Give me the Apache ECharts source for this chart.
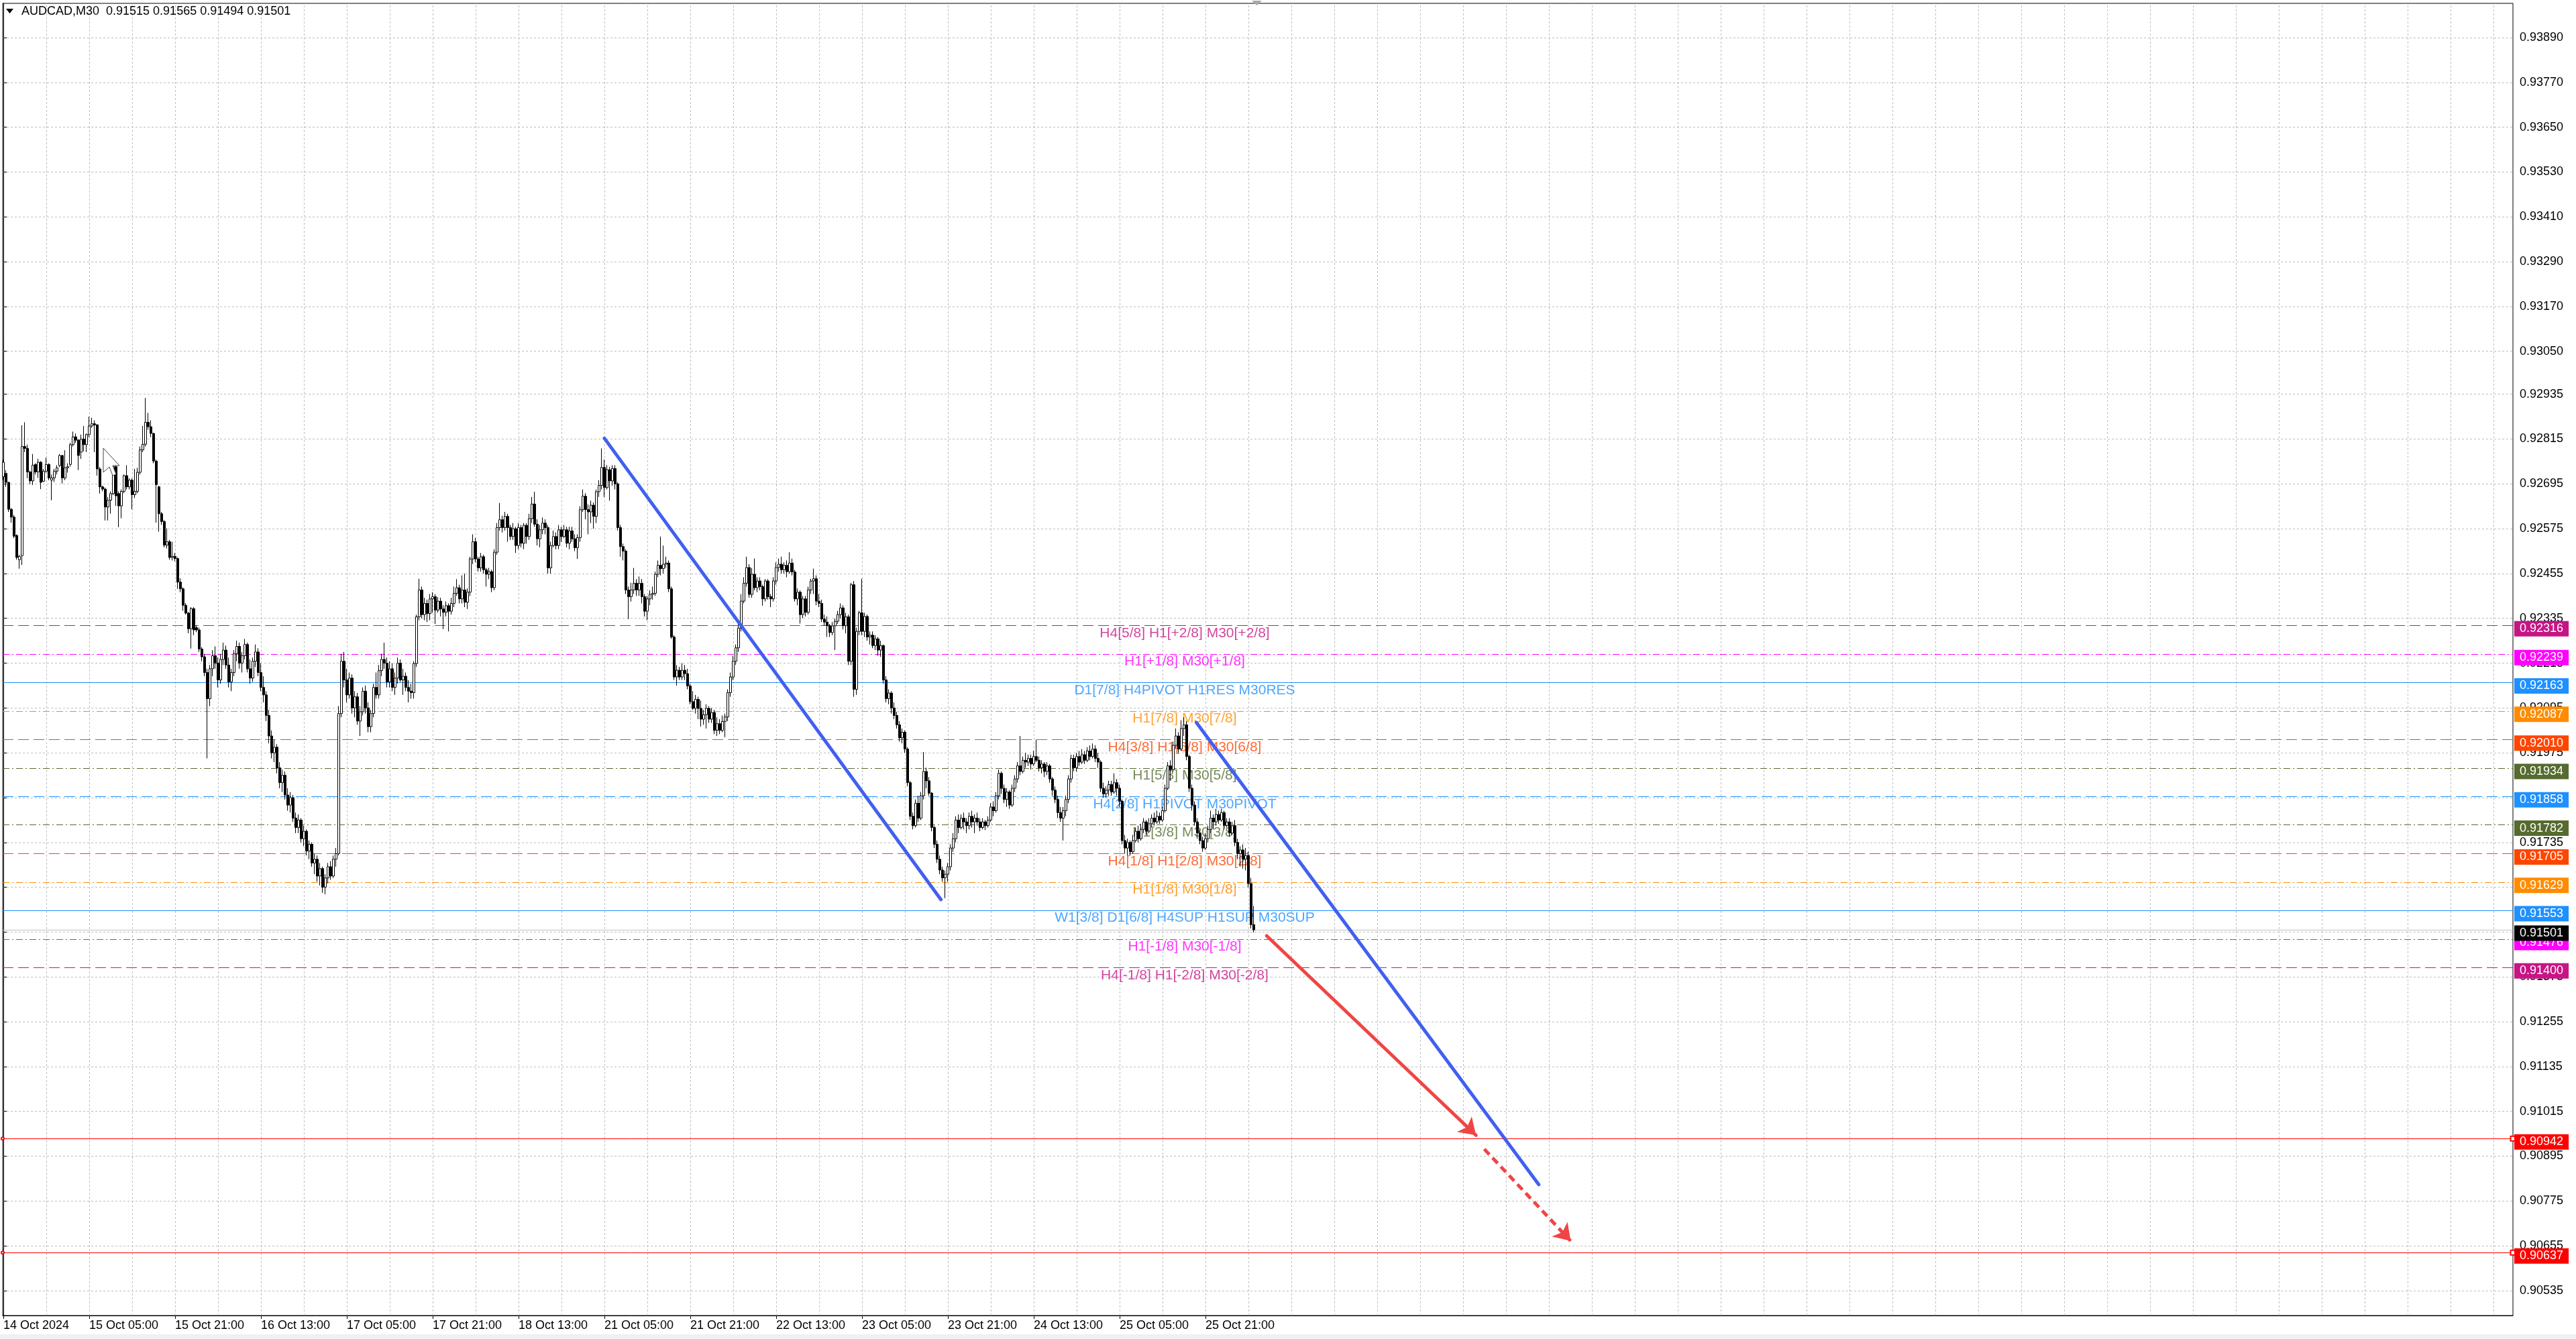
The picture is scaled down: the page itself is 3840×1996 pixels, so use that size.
<!DOCTYPE html>
<html><head><meta charset="utf-8">
<script src="https://cdn.jsdelivr.net/npm/echarts@6/dist/echarts.min.js"></script>
<style>html,body{margin:0;padding:0;background:#fff;overflow:hidden}#chart{width:3840px;height:1996px}</style>
</head><body><div id="chart"></div>
<script>
// ---------------- DATA ----------------
const SYMBOL = 'AUDCAD';
const TIMEFRAME = 'M30';
const POINT = 1e-5; // candle rows are quoted in points
// each row: [open, high, low, close] in points, one row per M30 bar
const candles = [
[92714,92760,92705,92753],[92723,92732,92687,92699],[92699,92700,92620,92627],[92627,92630,92591,92606],[92606,92612,92550,92555],[92557,92560,92492,92498],[92492,92505,92468,92501],[92503,92852,92478,92795],
[92795,92860,92780,92790],[92790,92800,92710,92727],[92727,92730,92694,92703],[92703,92775,92692,92745],[92747,92750,92720,92727],[92727,92762,92711,92753],[92753,92756,92681,92699],[92702,92735,92700,92729],
[92729,92765,92725,92747],[92747,92750,92705,92711],[92705,92720,92651,92711],[92711,92735,92700,92729],[92729,92745,92720,92738],[92744,92775,92740,92771],[92771,92772,92696,92711],[92711,92785,92705,92738],
[92738,92750,92725,92741],[92747,92805,92741,92800],[92800,92835,92795,92821],[92821,92830,92805,92812],[92812,92815,92732,92771],[92780,92827,92762,92815],[92815,92850,92782,92800],[92800,92830,92780,92827],
[92827,92875,92820,92850],[92850,92872,92845,92856],[92856,92865,92780,92853],[92853,92855,92717,92735],[92735,92740,92669,92687],[92687,92690,92675,92681],[92681,92685,92597,92633],[92633,92660,92597,92651],
[92651,92675,92615,92669],[92669,92752,92665,92741],[92741,92750,92636,92663],[92669,92675,92579,92636],[92636,92680,92603,92675],[92675,92720,92670,92717],[92717,92745,92680,92687],[92687,92710,92680,92705],
[92705,92710,92627,92666],[92666,92735,92657,92675],[92675,92738,92670,92726],[92726,92795,92720,92786],[92786,92850,92780,92801],[92801,92925,92795,92860],[92860,92885,92840,92848],[92848,92865,92820,92830],
[92830,92832,92750,92756],[92756,92760,92591,92693],[92687,92690,92567,92615],[92615,92620,92585,92594],[92594,92598,92525,92531],[92531,92576,92522,92540],[92540,92545,92492,92498],[92498,92540,92490,92501],
[92501,92510,92488,92495],[92495,92498,92414,92432],[92432,92442,92405,92414],[92414,92418,92355,92370],[92370,92376,92345,92349],[92349,92352,92295,92307],[92307,92365,92254,92361],[92361,92365,92290,92304],
[92310,92316,92298,92304],[92304,92310,92245,92253],[92253,92258,92220,92232],[92232,92240,92180,92190],[92190,92200,91960,92120],[92120,92210,92100,92200],[92200,92250,92180,92235],[92235,92260,92200,92215],
[92215,92230,92150,92170],[92170,92240,92160,92225],[92225,92270,92210,92250],[92250,92262,92200,92210],[92210,92230,92150,92165],[92165,92200,92140,92190],[92190,92250,92180,92240],[92240,92275,92220,92260],
[92260,92270,92200,92215],[92215,92245,92190,92235],[92235,92280,92225,92265],[92265,92270,92190,92200],[92200,92225,92160,92175],[92175,92230,92165,92220],[92220,92265,92205,92245],[92245,92255,92180,92190],
[92190,92215,92140,92150],[92150,92180,92110,92130],[92130,92140,92060,92075],[92075,92090,92000,92020],[92020,92035,91960,91975],[91975,92010,91950,91990],[91990,91998,91920,91935],[91935,91950,91880,91895],
[91895,91930,91870,91915],[91915,91925,91850,91862],[91862,91880,91820,91835],[91835,91870,91815,91855],[91855,91862,91790,91800],[91800,91815,91760,91775],[91775,91810,91760,91795],[91795,91800,91735,91745],
[91745,91780,91725,91765],[91765,91770,91700,91712],[91712,91740,91690,91730],[91730,91735,91670,91680],[91680,91705,91650,91690],[91690,91700,91630,91645],[91645,91680,91620,91665],[91665,91670,91600,91615],
[91615,91650,91596,91640],[91640,91680,91625,91670],[91670,91685,91635,91645],[91645,91700,91640,91690],[91690,91720,91670,91705],[91705,92100,91700,92080],[92080,92240,92070,92220],[92220,92245,92150,92170],
[92170,92200,92110,92130],[92130,92190,92120,92175],[92175,92185,92080,92095],[92095,92140,92070,92125],[92125,92135,92050,92060],[92060,92100,92020,92085],[92085,92150,92075,92140],[92140,92155,92080,92095],
[92095,92110,92030,92045],[92045,92090,92030,92080],[92080,92160,92070,92150],[92150,92190,92120,92130],[92130,92210,92120,92195],[92195,92240,92180,92225],[92225,92270,92200,92215],[92215,92230,92150,92165],
[92165,92220,92150,92200],[92200,92215,92140,92150],[92150,92190,92130,92175],[92175,92230,92160,92215],[92215,92225,92165,92170],[92170,92200,92130,92180],[92180,92190,92140,92150],[92150,92170,92110,92140],
[92140,92160,92120,92136],[92136,92220,92120,92214],[92214,92345,92205,92339],[92339,92441,92330,92411],[92411,92420,92335,92345],[92345,92390,92330,92375],[92375,92385,92325,92348],[92348,92400,92330,92387],
[92387,92405,92350,92393],[92393,92400,92320,92357],[92357,92392,92350,92381],[92381,92390,92340,92360],[92360,92370,92306,92351],[92351,92380,92340,92369],[92369,92375,92300,92354],[92354,92390,92345,92375],
[92375,92420,92365,92402],[92402,92440,92395,92417],[92417,92425,92375,92387],[92387,92450,92375,92411],[92411,92455,92365,92378],[92378,92415,92360,92405],[92405,92500,92395,92494],[92494,92560,92480,92540],
[92540,92550,92485,92494],[92494,92500,92460,92470],[92470,92510,92460,92500],[92500,92505,92455,92465],[92465,92470,92420,92453],[92453,92470,92440,92460],[92460,92465,92405,92417],[92417,92520,92410,92512],
[92512,92590,92505,92578],[92578,92644,92570,92599],[92599,92610,92565,92578],[92578,92620,92570,92608],[92608,92615,92540,92578],[92578,92585,92545,92554],[92554,92590,92545,92575],[92575,92580,92510,92530],
[92530,92590,92520,92578],[92578,92585,92525,92536],[92536,92590,92520,92584],[92584,92590,92535,92554],[92554,92615,92545,92602],[92602,92660,92590,92641],[92641,92674,92580,92587],[92587,92600,92530,92548],
[92548,92585,92525,92572],[92572,92605,92560,92590],[92590,92600,92560,92578],[92578,92585,92455,92470],[92470,92540,92455,92530],[92530,92570,92525,92554],[92554,92565,92520,92530],[92530,92585,92520,92572],
[92572,92580,92540,92554],[92554,92585,92550,92572],[92572,92580,92525,92536],[92536,92580,92520,92569],[92569,92580,92540,92548],[92548,92560,92515,92524],[92524,92560,92494,92551],[92551,92635,92540,92626],
[92626,92680,92620,92662],[92662,92670,92600,92626],[92626,92640,92560,92620],[92620,92650,92590,92638],[92638,92645,92575,92608],[92608,92680,92590,92674],[92674,92705,92660,92691],[92691,92790,92680,92739],
[92739,92760,92660,92685],[92685,92745,92680,92733],[92733,92740,92650,92703],[92703,92745,92690,92736],[92736,92745,92680,92695],[92695,92700,92570,92578],[92578,92585,92500,92527],[92527,92535,92490,92515],
[92515,92520,92400,92411],[92411,92420,92333,92393],[92393,92430,92380,92411],[92411,92470,92400,92429],[92429,92440,92395,92411],[92411,92447,92395,92429],[92429,92440,92375,92393],[92393,92400,92340,92354],
[92354,92395,92330,92387],[92387,92410,92370,92399],[92399,92420,92385,92402],[92402,92460,92395,92453],[92453,92490,92445,92477],[92477,92554,92450,92468],[92468,92530,92455,92480],[92480,92500,92470,92483],
[92483,92490,92405,92414],[92414,92420,92280,92285],[92285,92290,92170,92178],[92178,92210,92155,92196],[92196,92205,92170,92178],[92178,92215,92170,92196],[92196,92210,92170,92187],[92187,92200,92145,92154],
[92154,92160,92105,92112],[92112,92140,92090,92094],[92094,92130,92080,92118],[92118,92125,92065,92094],[92094,92115,92045,92065],[92065,92090,92050,92077],[92077,92105,92040,92094],[92094,92100,92055,92065],
[92065,92095,92055,92083],[92083,92090,92025,92035],[92035,92070,92020,92053],[92053,92065,92025,92035],[92035,92075,92030,92059],[92059,92080,92017,92071],[92071,92145,92060,92136],[92136,92190,92125,92178],
[92178,92235,92170,92220],[92220,92265,92210,92256],[92256,92320,92245,92309],[92309,92400,92300,92381],[92381,92445,92375,92429],[92429,92500,92420,92471],[92471,92480,92390,92399],[92399,92470,92390,92453],
[92453,92495,92410,92417],[92417,92445,92405,92435],[92435,92445,92410,92420],[92420,92425,92369,92387],[92387,92440,92380,92435],[92435,92440,92385,92393],[92393,92400,92365,92387],[92387,92445,92380,92435],
[92435,92485,92425,92471],[92471,92495,92460,92480],[92480,92500,92455,92465],[92465,92485,92455,92477],[92477,92490,92445,92460],[92460,92512,92455,92483],[92483,92495,92450,92459],[92459,92465,92380,92387],
[92387,92415,92370,92405],[92405,92410,92321,92345],[92345,92395,92335,92387],[92387,92395,92340,92351],[92351,92420,92345,92411],[92411,92441,92400,92435],[92435,92468,92400,92441],[92441,92450,92370,92381],
[92381,92400,92365,92375],[92375,92385,92325,92333],[92333,92345,92315,92325],[92325,92340,92285,92315],[92315,92320,92285,92297],[92297,92325,92290,92315],[92315,92335,92250,92327],[92327,92355,92320,92345],
[92345,92375,92335,92363],[92363,92370,92305,92315],[92315,92350,92295,92339],[92339,92345,92210,92220],[92220,92430,92210,92425],[92425,92435,92125,92145],[92145,92310,92130,92300],[92300,92355,92290,92350],
[92350,92441,92290,92300],[92300,92350,92285,92340],[92340,92345,92275,92285],[92285,92300,92265,92290],[92290,92300,92255,92262],[92262,92290,92250,92280],[92280,92285,92235,92250],[92250,92275,92232,92262],
[92262,92265,92160,92170],[92170,92180,92110,92120],[92120,92145,92105,92135],[92135,92140,92080,92095],[92095,92110,92065,92075],[92075,92085,92040,92050],[92050,92060,92005,92015],[92015,92040,92000,92030],
[92030,92035,91975,91985],[91985,91990,91885,91895],[91895,91900,91795,91805],[91805,91815,91770,91780],[91780,91850,91775,91840],[91840,91860,91790,91800],[91800,91870,91795,91860],[91860,91977,91850,91925],
[91925,91935,91880,91900],[91900,91910,91860,91867],[91867,91870,91765,91775],[91775,91780,91720,91730],[91730,91740,91680,91690],[91690,91700,91650,91661],[91661,91670,91630,91640],[91640,91660,91586,91650],
[91650,91680,91630,91670],[91670,91730,91660,91720],[91720,91760,91710,91745],[91745,91805,91735,91795],[91795,91810,91760,91775],[91775,91810,91770,91800],[91800,91815,91770,91790],[91790,91800,91760,91780],
[91780,91815,91770,91805],[91805,91820,91775,91790],[91790,91810,91760,91800],[91800,91815,91780,91790],[91790,91800,91765,91775],[91775,91800,91770,91790],[91790,91795,91768,91780],[91780,91805,91775,91795],
[91795,91840,91790,91830],[91830,91845,91805,91820],[91820,91870,91815,91860],[91860,91930,91850,91920],[91920,91925,91865,91880],[91880,91890,91840,91850],[91850,91880,91830,91870],[91870,91875,91825,91835],
[91835,91890,91830,91880],[91880,91915,91870,91905],[91905,91950,91895,91940],[91940,92020,91915,91925],[91925,91965,91920,91955],[91955,91975,91935,91950],[91950,91970,91940,91960],[91960,91970,91930,91945],
[91945,91980,91940,91965],[91965,92010,91950,91955],[91955,91965,91925,91935],[91935,91955,91920,91945],[91945,91950,91910,91925],[91925,91950,91915,91940],[91940,91945,91895,91905],[91905,91910,91860,91875],
[91875,91885,91840,91850],[91850,91860,91800,91815],[91815,91830,91790,91800],[91800,91830,91740,91820],[91820,91860,91805,91850],[91850,91915,91840,91905],[91905,91970,91895,91960],[91960,91970,91925,91935],
[91935,91975,91925,91965],[91965,91980,91940,91950],[91950,91985,91945,91970],[91970,91980,91945,91955],[91955,91990,91950,91980],[91980,91995,91955,91965],[91965,92000,91960,91985],[91985,91995,91950,91960],
[91960,91975,91935,91950],[91950,91955,91870,91880],[91880,91895,91855,91865],[91865,91885,91855,91875],[91875,91900,91860,91890],[91890,91900,91860,91870],[91870,91920,91865,91895],[91895,91905,91860,91880],
[91880,91890,91830,91845],[91845,91850,91730,91740],[91740,91755,91705,91720],[91720,91745,91700,91735],[91735,91740,91700,91710],[91710,91755,91705,91740],[91740,91775,91735,91765],[91765,91780,91735,91745],
[91745,91785,91740,91770],[91770,91800,91760,91790],[91790,91795,91755,91765],[91765,91800,91760,91785],[91785,91810,91775,91800],[91800,91815,91780,91790],[91790,91820,91785,91805],[91805,91815,91785,91795],
[91795,91830,91790,91820],[91820,91890,91815,91880],[91880,91950,91875,91940],[91940,91955,91900,91930],[91930,92005,91925,91995],[91995,92040,91985,92020],[92020,92030,91975,91985],[91985,92062,91980,92040],
[92040,92070,92020,92050],[92050,92060,91955,91965],[91965,91970,91870,91880],[91880,91890,91820,91835],[91835,91845,91780,91790],[91790,91800,91745,91760],[91760,91770,91730,91740],[91740,91750,91710,91720],
[91720,91760,91715,91745],[91745,91780,91735,91770],[91770,91820,91760,91800],[91800,91810,91770,91790],[91790,91825,91780,91810],[91810,91820,91785,91795],[91795,91825,91790,91815],[91815,91820,91770,91780],
[91780,91800,91775,91790],[91790,91800,91750,91760],[91760,91790,91755,91780],[91780,91795,91725,91735],[91735,91745,91690,91705],[91705,91725,91670,91715],[91715,91730,91665,91690],[91690,91720,91660,91700],
[91700,91710,91615,91625],[91625,91640,91505,91515],[91515,91565,91494,91501]
];

const xTickLabels = ['14 Oct 2024','15 Oct 05:00','15 Oct 21:00','16 Oct 13:00','17 Oct 05:00','17 Oct 21:00','18 Oct 13:00','21 Oct 05:00','21 Oct 21:00','22 Oct 13:00','23 Oct 05:00','23 Oct 21:00','24 Oct 13:00','25 Oct 05:00','25 Oct 21:00'];
const yTicks = [0.93890,0.93770,0.93650,0.93530,0.93410,0.93290,0.93170,0.93050,0.92935,0.92815,0.92695,0.92575,0.92455,0.92335,0.92215,0.92095,0.91975,0.91855,0.91735,0.91615,0.91495,0.91375,0.91255,0.91135,0.91015,0.90895,0.90775,0.90655,0.90535];

const levelPrices = [0.92316,0.92239,0.92163,0.92087,0.92010,0.91934,0.91858,0.91782,0.91705,0.91629,0.91553,0.91476,0.91400];
const levelTexts = ['H4[5/8] H1[+2/8] M30[+2/8]','H1[+1/8] M30[+1/8]','D1[7/8] H4PIVOT H1RES M30RES','H1[7/8] M30[7/8]','H4[3/8] H1[6/8] M30[6/8]','H1[5/8] M30[5/8]','H4[2/8] H1PIVOT M30PIVOT','H1[3/8] M30[3/8]','H4[1/8] H1[2/8] M30[2/8]','H1[1/8] M30[1/8]','W1[3/8] D1[6/8] H4SUP H1SUP M30SUP','H1[-1/8] M30[-1/8]','H4[-1/8] H1[-2/8] M30[-2/8]'];
const targetPrices = [0.90942,0.90637];

// hand-drawn objects: [barIndex, price]
const trendLine1 = [[224.0,0.92817],[349.4,0.91582]];
const trendLine2 = [[444.6,0.92056],[572.2,0.90819]];
const arrowSolid = [[470.8,0.91485],[548.8,0.90951]];
const arrowDashed = [[551.9,0.90914],[584.1,0.90668]];

// ---------------- LAYOUT / STYLE ----------------
const FONT = '"Liberation Sans", Arial, sans-serif';
const BARS_PER_LABEL = 32, BARS_PER_GRID = 16;
const X_MIN = -0.25, X_MAX = 935.25;
const Y_MIN = 0.904684, Y_MAX = 0.939815;
const LABEL_BAR = 440.25;
const DASH = [16, 7], DASHDOT = [10, 4, 2, 4];
const levelColors = ['#C71585','#FF00FF','#1E90FF','#FF8C00','#FF4500','#556B2F','#1E90FF','#556B2F','#FF4500','#FF8C00','#1E90FF','#FF00FF','#C71585'];
const levelDash = [DASH,DASHDOT,'solid',DASHDOT,DASH,DASHDOT,DASH,DASHDOT,DASH,DASHDOT,'solid',DASHDOT,DASH];

const labelPos = xTickLabels.map((_, i) => i * BARS_PER_LABEL);
const vGrid = [];
for (let b = BARS_PER_GRID; b < X_MAX; b += BARS_PER_GRID) vGrid.push(b);

const candleData = candles.map((r, i) => [i, r[0] * POINT, r[3] * POINT, r[2] * POINT, r[1] * POINT]);
const last = candles[candles.length - 1];
const bidPrice = last[3] * POINT;
const fmt = v => v.toFixed(5);

const hSeg = p => [[X_MIN, p], [X_MAX, p]];
function priceLine(price, bg, lineColor, lineType) {
  return {
    coords: hSeg(price),
    lineStyle: { color: lineColor, type: lineType, width: 1, opacity: 1 },
    label: { show: true, position: 'end', distance: 2, offset: [0, 5], formatter: () => fmt(price),
      backgroundColor: bg, color: '#fff', padding: [3, 8, 2, 8], fontSize: 18, lineHeight: 18, fontFamily: FONT }
  };
}
const levelLines = levelPrices.map((p, i) => priceLine(p, levelColors[i], levelColors[i], levelDash[i]));
levelLines.push(priceLine(bidPrice, '#000', '#C0C0C0', 'solid'));
const targetLines = targetPrices.map(p => priceLine(p, '#FF0000', '#FF0000', 'solid'));

const gridSegs = yTicks.map(v => ({ coords: hSeg(v) }))
  .concat(vGrid.map(b => ({ coords: [[b, Y_MIN], [b, Y_MAX]] })));

const linesBase = { type: 'lines', coordinateSystem: 'cartesian2d', silent: true, clip: false, animation: false, polyline: false, large: false, effect: { show: false } };

const chart = echarts.init(document.getElementById('chart'), null, { renderer: 'canvas' });
chart.setOption({
  animation: false,
  backgroundColor: '#fff',
  grid: { left: 4, right: 94, top: 5, bottom: 35, show: true, borderColor: '#000', borderWidth: 1, backgroundColor: '#fff' },
  xAxis: {
    type: 'value', min: X_MIN, max: X_MAX,
    axisLine: { show: true, lineStyle: { color: '#000', width: 1 } },
    axisTick: { show: true, customValues: labelPos, length: 5, lineStyle: { color: '#000' } },
    axisLabel: { customValues: labelPos, formatter: v => xTickLabels[Math.round(v / BARS_PER_LABEL)] || '',
      align: 'left', margin: 6, fontSize: 18, fontFamily: FONT, color: '#000' },
    splitLine: { show: false }
  },
  yAxis: {
    type: 'value', position: 'right', min: Y_MIN, max: Y_MAX,
    axisLine: { show: true, lineStyle: { color: '#000', width: 1 } },
    axisTick: { show: true, customValues: yTicks, length: 5, lineStyle: { color: '#000' } },
    axisLabel: { customValues: yTicks, formatter: v => fmt(v), margin: 10, fontSize: 18, fontFamily: FONT, color: '#000' },
    splitLine: { show: false }
  },
  graphic: [
    { type: 'polygon', shape: { points: [[9, 13], [20, 13], [14.5, 20]] }, style: { fill: '#000' }, z: 10 },
    { type: 'text', left: 32, top: 8, z: 10,
      style: { text: SYMBOL + ',' + TIMEFRAME + '  ' + [last[0], last[1], last[2], last[3]].map(v => fmt(v * POINT)).join(' '),
        font: '18px ' + FONT, fill: '#000' } },
    { type: 'polygon', shape: { points: [[1866, 1], [1881, 1], [1873.5, 8]] }, style: { fill: '#A8A8A8' }, z: 10 },
    { type: 'polygon', z: 10, shape: { points: [[154, 668], [154, 704], [163, 696], [168, 709], [173, 707], [168, 694], [178, 694]] },
      style: { fill: '#fff', stroke: '#444', lineWidth: 1 } },
    { type: 'rect', shape: { x: 0, y: 1989, width: 3840, height: 7 }, style: { fill: '#F0F0F0' }, z: 10 }
  ],
  series: [
    Object.assign({}, linesBase, { name: 'grid', z: 0, symbol: ['none', 'none'],
      lineStyle: { color: '#BDBDBD', type: [3, 3], width: 1, opacity: 1 }, data: gridSegs }),
    Object.assign({}, linesBase, { name: 'levels', z: 1, symbol: ['none', 'none'], lineStyle: { opacity: 1, width: 1 }, data: levelLines }),
    Object.assign({}, linesBase, { name: 'targets', z: 1, symbol: ['emptyCircle', 'emptyRect'], symbolSize: [4, 7], lineStyle: { opacity: 1, width: 1 }, data: targetLines }),
    { name: 'levelText', type: 'scatter', z: 1, silent: true, symbolSize: 1, itemStyle: { color: 'rgba(0,0,0,0)' },
      data: levelPrices.map((p, i) => ({ value: [LABEL_BAR, p],
        label: { show: true, position: 'bottom', distance: 0, formatter: () => levelTexts[i],
          color: levelColors[i], fontSize: 21, lineHeight: 22, fontFamily: FONT } })) },
    { name: SYMBOL, type: 'candlestick', z: 2, silent: true, barWidth: 3, large: false,
      data: candleData,
      itemStyle: { color: '#fff', color0: '#000', borderColor: '#000', borderColor0: '#000', borderColorDoji: '#000', borderWidth: 1 } },
    { name: 'trend1', type: 'line', z: 3, silent: true, symbol: 'none', data: trendLine1,
      lineStyle: { color: '#4160F0', width: 5, cap: 'round' } },
    { name: 'trend2', type: 'line', z: 3, silent: true, symbol: 'none', data: trendLine2,
      lineStyle: { color: '#4160F0', width: 5, cap: 'round' } },
    Object.assign({}, linesBase, { name: 'arrows', z: 3, symbol: ['none', 'arrow'], symbolSize: 24, lineStyle: { opacity: 1, width: 5 },
      data: [
        { coords: arrowSolid, lineStyle: { color: '#F04545', width: 5, type: 'solid', cap: 'round', opacity: 1 } },
        { coords: arrowDashed, lineStyle: { color: '#F04545', width: 5, type: [11, 7], opacity: 1 } }
      ] })
  ]
});
</script>
</body></html>
